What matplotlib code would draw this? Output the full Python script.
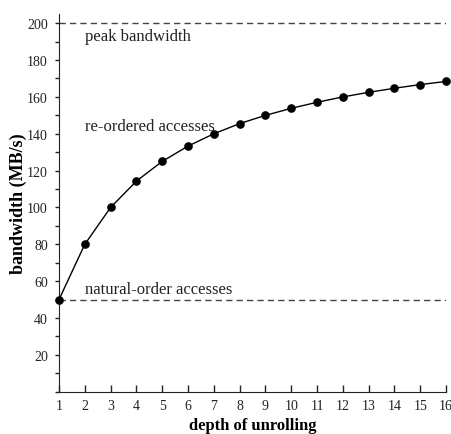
import matplotlib
matplotlib.use("Agg")
import matplotlib.pyplot as plt

depth = [1, 2, 3, 4, 5, 6, 7, 8, 9, 10, 11, 12, 13, 14, 15, 16]
bandwidth = [50, 80, 100, 114.3, 125, 133.3, 140, 145.5, 150, 153.8, 157.1, 160, 162.5, 164.7, 166.7, 168.4]
peak_bw = 200
natural_bw = 50
y_label_ticks = [20, 40, 60, 80, 100, 120, 140, 160, 180, 200]

plt.rcParams['font.family'] = ['Liberation Serif', 'DejaVu Serif']

fig = plt.figure(figsize=(4.51, 4.35), dpi=100)
ax = fig.add_axes([0.1308, 0.0972, 0.8582, 0.8683])

ink = '#222222'
ax.plot([depth[0], depth[-1]], [peak_bw, peak_bw], ls=(0, (4.5, 3)), color='#444444', lw=1)
ax.plot([depth[0], depth[-1]], [natural_bw, natural_bw], ls=(0, (4.5, 3)), color='#444444', lw=1)
ax.plot(depth, bandwidth, color='black', lw=1, marker='o', ms=5.2, clip_on=False, zorder=5)

ax.text(2.0, 193, 'peak bandwidth', fontsize=12, va='center', ha='left', color=ink)
ax.text(2.0, 144, 're-ordered accesses', fontsize=12, va='center', ha='left', color=ink)
ax.text(2.0, 55.5, 'natural-order accesses', fontsize=12, va='center', ha='left', color=ink)

ax.set_xlim(1, 16)
ax.set_ylim(0, 205)
ax.spines['top'].set_visible(False)
ax.spines['right'].set_visible(False)
ax.spines['left'].set_color(ink)
ax.spines['bottom'].set_color(ink)

ax.set_xticks(depth)
ax.set_xticklabels([str(d) for d in depth])
ax.tick_params(axis='x', direction='in', length=5, width=1, color=ink, labelsize=10, labelcolor=ink, pad=5)

yt = list(range(0, 201, 10))
ax.set_yticks(yt)
ax.set_yticklabels([str(v) if v in y_label_ticks else '' for v in yt])
ax.set_yticks([0, 50, 100, 150, 200], minor=True)
ax.tick_params(axis='y', which='major', direction='out', length=3, width=1, color=ink, labelsize=10, labelcolor=ink, pad=5)
ax.tick_params(axis='y', which='minor', direction='out', length=7, width=1, color=ink)

ax.set_xlabel('depth of unrolling', fontsize=12, fontweight='bold', labelpad=4)
ax.set_ylabel('bandwidth (MB/s)', fontsize=13, fontweight='bold', labelpad=0)

fig.savefig('out.png', dpi=100)
